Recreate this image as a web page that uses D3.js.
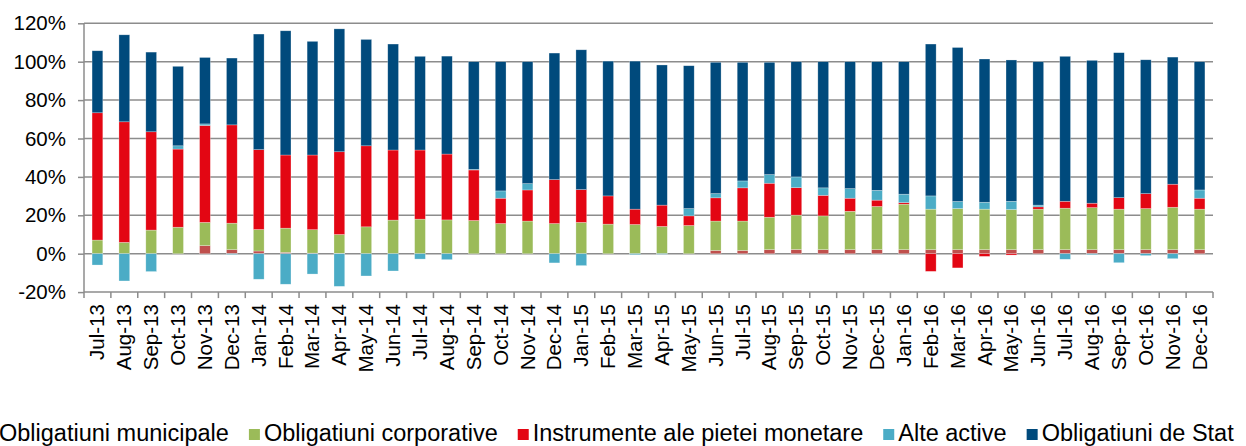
<!DOCTYPE html>
<meta charset="utf-8">
<script src="https://d3js.org/d3.v7.min.js"></script>
<style>

body {
  margin: 0;
  background: #fff;
}

text {
  font-family: "Liberation Sans", Arial, sans-serif;
  fill: #000;
}

.grid line {
  stroke: #8c8c8c;
  stroke-width: 1.5px;
}

.axis path,
.axis line {
  stroke: #8c8c8c;
  stroke-width: 1.5px;
  fill: none;
}

.axis text {
  font-size: 20.5px;
}

.legend text {
  font-size: 23.5px;
}

.bar {
  stroke: #fff;
  stroke-opacity: 0.45;
  stroke-width: 0.6px;
}

</style>

<svg width="1246" height="446"></svg>
<script>

// month labels
var months = ["Jul-13","Aug-13","Sep-13","Oct-13","Nov-13","Dec-13",
  "Jan-14","Feb-14","Mar-14","Apr-14","May-14","Jun-14","Jul-14","Aug-14","Sep-14","Oct-14","Nov-14","Dec-14",
  "Jan-15","Feb-15","Mar-15","Apr-15","May-15","Jun-15","Jul-15","Aug-15","Sep-15","Oct-15","Nov-15","Dec-15",
  "Jan-16","Feb-16","Mar-16","Apr-16","May-16","Jun-16","Jul-16","Aug-16","Sep-16","Oct-16","Nov-16","Dec-16"];

// series, in %
var municipale = [0,0,0,0,4.2,2.1,
  1.4,0.7,0.3,0.2,0,0,0,0,0,0,0,0,
  0,0,0,0,0,1.7,1.7,2.1,2.2,2.1,2.1,2.1,
  2.1,2.1,2.1,2.1,2.1,2.1,2.1,2.1,2.1,2.1,2.1,2.1];

var corporative = [7.1,5.9,12.3,13.8,12.1,13.8,
  11.2,12.6,12.2,9.8,14.0,17.5,18.0,17.6,17.3,15.7,17.0,15.7,
  16.3,15.4,15.2,14.2,14.7,15.3,15.3,16.9,17.9,17.6,20.0,22.5,
  23.7,21.1,21.4,21.1,20.9,21.1,21.6,21.9,21.1,21.4,22.1,21.1];

var instrumente = [66.3,62.8,51.2,40.7,50.5,51.2,
  41.6,38.1,38.9,43.1,42.2,36.5,36.0,34.3,26.3,13.2,16.2,22.9,
  17.1,14.7,8.0,11.1,5.0,12.1,17.3,17.7,14.3,10.7,6.8,3.3,
  0.8,-9.2,-7.4,-1.4,-0.7,1.2,3.6,2.3,6.0,7.8,12.0,5.7];

var alteActive = [-5.9,-14.2,-9.3,1.7,0.8,-0.4,
  -13.3,-15.9,-10.6,-17.0,-11.6,-9.0,-2.8,-3.1,0.3,3.8,3.3,-4.8,
  -6.2,0,-0.5,-0.3,3.8,2.2,3.6,4.5,5.6,3.9,5.0,5.1,
  4.4,6.9,3.7,3.6,4.3,0.9,-2.9,-0.5,-4.7,-1.0,-2.6,4.3];

var deStat = [32.3,45.3,41.5,41.4,34.6,34.8,
  60.2,64.7,59.2,64.0,55.4,55.2,48.8,51.0,56.1,67.3,63.5,65.9,
  72.8,70.2,77.1,73.0,74.4,68.4,61.8,58.5,60.0,65.7,66.1,67.0,
  69.0,79.1,80.2,74.6,73.6,74.7,75.5,74.4,75.5,69.7,66.2,66.8];

var seriesNames = ["Obligatiuni municipale","Obligatiuni corporative","Instrumente ale pietei monetare","Alte active","Obligatiuni de Stat"];
var seriesColors = ["#c0504d","#9bbb59","#e30613","#4bacc6","#004a7c"];
var yTicks = [-20,0,20,40,60,80,100,120];

// one row per month for d3.stack
var keys = ["m","c","i","a","s"];
var rows = months.map(function(m, k) {
  return {month: m, m: municipale[k], c: corporative[k], i: instrumente[k], a: alteActive[k], s: deStat[k]};
});

var svg = d3.select("svg");

var x = d3.scaleBand()
    .domain(months)
    .range([84, 1213])
    .paddingInner(0.6)
    .paddingOuter(0.3);

var y = d3.scaleLinear()
    .domain([-20, 120])
    .range([292.1, 23.3]);

// gridlines
svg.append("g")
    .attr("class", "grid")
  .selectAll("line")
    .data(yTicks.slice(1))
  .enter().append("line")
    .attr("x1", 84)
    .attr("x2", 1213)
    .attr("y1", function(d) { return y(d); })
    .attr("y2", function(d) { return y(d); });

// stacked bars, negatives go down from zero
var stack = d3.stack().keys(keys).offset(d3.stackOffsetDiverging);
var layers = stack(rows);

svg.append("g")
  .selectAll("g")
    .data(layers)
  .enter().append("g")
    .attr("fill", function(d, k) { return seriesColors[k]; })
  .selectAll("rect")
    .data(function(d) { return d.filter(function(p) { return p[1] - p[0] !== 0; }); })
  .enter().append("rect")
    .attr("class", "bar")
    .attr("x", function(d) { return x(d.data.month); })
    .attr("width", x.bandwidth())
    .attr("y", function(d) { return y(Math.max(d[0], d[1])); })
    .attr("height", function(d) { return Math.abs(y(d[0]) - y(d[1])); });

// y axis
var yAxis = svg.append("g")
    .attr("class", "axis")
    .attr("transform", "translate(84,0)")
    .call(d3.axisLeft(y).tickValues(yTicks).tickFormat(function(d) { return d + "%"; }).tickSizeOuter(0).tickSize(6).tickPadding(12));
yAxis.select(".domain").attr("d", "M0," + y(-20) + "V" + y(120));

// x axis on the -20% line, ticks between categories
var xAxis = svg.append("g")
    .attr("class", "axis")
    .attr("transform", "translate(0," + y(-20) + ")");
xAxis.append("line")
    .attr("x1", 84).attr("x2", 1213);
xAxis.selectAll(".tick")
    .data(d3.range(months.length + 1))
  .enter().append("line")
    .attr("x1", function(k) { return 84 + k * x.step(); })
    .attr("x2", function(k) { return 84 + k * x.step(); })
    .attr("y1", 0).attr("y2", 6);
xAxis.selectAll("text")
    .data(months)
  .enter().append("text")
    .attr("transform", function(d) { return "translate(" + (x(d) + x.bandwidth() / 2 + 7) + ",12) rotate(-90)"; })
    .attr("text-anchor", "end")
    .text(function(d) { return d; });

// legend, starts just left of the page edge like the original
var legend = svg.append("g").attr("class", "legend");
var lx = -1;
seriesNames.forEach(function(name, k) {
  legend.append("rect")
      .attr("x", lx - 15)
      .attr("y", 429)
      .attr("width", 11)
      .attr("height", 11)
      .attr("fill", seriesColors[k]);
  var t = legend.append("text")
      .attr("x", lx)
      .attr("y", 441)
      .text(name);
  lx += t.node().getComputedTextLength() + 35;
});

</script>
